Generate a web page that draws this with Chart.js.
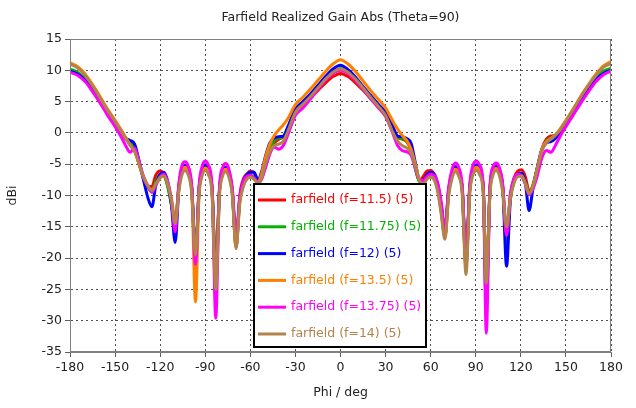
<!DOCTYPE html>
<html>
<head>
<meta charset="utf-8">
<script src="https://cdn.jsdelivr.net/npm/chart.js@4"></script>
<style>
  html, body { margin: 0; padding: 0; background: #fff; }
  #wrap { width: 636px; height: 408px; position: relative; }
</style>
</head>
<body>
<div id="wrap"><canvas id="chart"></canvas></div>
<script>
const TITLE = 'Farfield Realized Gain Abs (Theta=90)'
const X_TITLE = 'Phi / deg'
const Y_TITLE = 'dBi'

const PHI = [
  -180, -175, -170, -165, -160, -155, -150, -146, -143, -140,
  -137, -134, -131, -128, -125.5, -123, -120, -117.5, -115, -112.5,
  -110, -107.5, -105.5, -103.5, -101.5, -99, -96.5, -94, -92, -90,
  -88, -85.5, -83, -80.5, -78.5, -76.5, -74.5, -72, -69.5, -67,
  -64.5, -62, -60, -57.5, -55, -52.5, -50, -47, -44, -41,
  -38, -35, -30, -25, -20, -15, -10, -5, 0,
  5, 10, 15, 20, 25, 30, 35, 38, 41, 44,
  47, 50, 52.5, 55, 57.5, 60, 62.5, 65, 67, 69.5,
  72, 74.5, 76.5, 78.5, 81, 83.5, 86, 88, 90.5, 92.5,
  95, 97, 99.5, 101.5, 103.5, 105.5, 108, 110.5, 113, 115.5,
  118, 120.5, 123, 125.5, 128, 131, 134, 137, 140, 143,
  146, 150, 155, 160, 165, 170, 175, 180,
]

const LABELS = [
  'farfield (f=11.5) (5)',
  'farfield (f=11.75) (5)',
  'farfield (f=12) (5)',
  'farfield (f=13.5) (5)',
  'farfield (f=13.75) (5)',
  'farfield (f=14) (5)',
]

const COLORS = ['#ff0000', '#00b400', '#0000ff', '#ff8000', '#ff00ff', '#b4824b']

const gain115 = [
  10.0, 9.5, 8.5, 7.0, 5.2, 3.3, 1.6, 0.2, -0.9, -1.5,
  -2.6, -5.0, -7.2, -8.5, -8.6, -6.8, -6.1, -6.6, -8.4, -11.3,
  -14.2, -8.4, -6.0, -5.3, -5.9, -8.9, -19, -8.7, -6.1, -5.3,
  -5.9, -8.9, -22, -9.1, -6.2, -5.6, -6.2, -9.3, -18.3, -10,
  -7.3, -6.5, -6.1, -6.4, -7.8, -7.2, -5.5, -3.2, -1.6, -1.0,
  -0.6, 0.7, 3.4, 4.5, 5.6, 6.8, 8.0, 9.0, 9.5,
  9.0, 8.0, 6.8, 5.5, 4.1, 2.7, 0.3, -0.7, -1.0, -1.4,
  -2.8, -5.9, -7.6, -7.0, -6.1, -6.0, -6.8, -9.0, -12.3, -16.5,
  -9.2, -6.2, -5.5, -6.1, -9.0, -21, -8.9, -6.0, -5.2, -5.8,
  -8.9, -24, -8.9, -6.1, -5.5, -6.0, -8.8, -17, -10, -7.2,
  -6.1, -5.9, -7.0, -9.3, -8.4, -5.6, -2.6, -1.0, -0.5, -0.4,
  0.2, 1.7, 3.4, 5.3, 7.1, 8.7, 9.8, 10.2,
]

const gain1175 = [
  10.2, 9.7, 8.7, 7.1, 5.3, 3.4, 1.7, 0.3, -0.9, -1.4,
  -2.4, -4.8, -7.3, -8.8, -9.4, -7.8, -6.6, -6.8, -8.6, -11.5,
  -14.5, -8.5, -6.0, -5.4, -6.0, -9.0, -19.5, -8.8, -6.2, -5.4,
  -6.0, -9.0, -22, -9.2, -6.3, -5.6, -6.3, -9.5, -18, -10.5,
  -7.8, -6.8, -6.7, -7.2, -8.0, -7.0, -4.8, -2.6, -1.2, -0.8,
  -0.6, 0.8, 3.6, 4.9, 6.0, 7.2, 8.5, 9.6, 10.3,
  9.6, 8.4, 7.0, 5.7, 4.3, 2.8, 0.3, -0.6, -0.9, -1.3,
  -2.6, -5.8, -7.8, -7.8, -6.9, -6.6, -7.2, -9.0, -12, -16.5,
  -9.3, -6.3, -5.5, -6.1, -9.0, -21, -9.0, -6.1, -5.3, -5.9,
  -9.0, -24, -9.0, -6.2, -5.5, -6.1, -9.0, -17.5, -10.5, -7.8,
  -6.6, -6.5, -7.8, -9.6, -8.4, -5.5, -2.8, -1.3, -0.8, -0.4,
  0.3, 1.8, 3.5, 5.4, 7.2, 8.8, 9.9, 10.3,
]

const gain12 = [
  9.9, 9.4, 8.4, 6.9, 5.1, 3.2, 1.6, 0.4, -0.8, -1.2,
  -1.8, -4.5, -7.6, -10.5, -11.8, -8.5, -6.6, -6.3, -7.8, -11.5,
  -17.5, -8.6, -5.8, -5.2, -5.8, -8.8, -20, -8.6, -5.9, -5.1,
  -5.7, -8.8, -23, -9.0, -6.1, -5.5, -6.1, -9.3, -17.3, -10.5,
  -7.6, -6.6, -6.3, -6.3, -7.5, -6.2, -3.8, -1.6, -0.8, -0.6,
  -0.5, 1.0, 3.8, 5.0, 6.2, 7.6, 9.0, 10.2, 10.8,
  10.1, 8.9, 7.4, 6.0, 4.6, 3.3, 0.9, -0.5, -0.6, -0.9,
  -1.7, -5.0, -7.5, -7.6, -6.7, -6.3, -6.6, -8.5, -11.5, -15.5,
  -9.0, -6.1, -5.4, -6.0, -8.9, -20, -8.8, -5.9, -5.1, -5.7,
  -8.8, -27.5, -8.8, -6.0, -5.3, -5.9, -8.8, -21.3, -10.8, -7.6,
  -6.6, -6.4, -8.0, -12.4, -9.0, -5.5, -2.6, -1.6, -1.4, -0.9,
  0.0, 1.6, 3.2, 5.1, 6.9, 8.5, 9.5, 10.0,
]

const gain135 = [
  11.2, 10.6, 9.4, 7.7, 5.8, 3.8, 2.0, 0.5, -0.7, -1.9,
  -2.9, -5.0, -7.2, -8.6, -9.2, -8.3, -7.2, -6.8, -8.0, -10.5,
  -14.0, -8.8, -6.2, -5.5, -6.0, -9.0, -27, -9.0, -6.4, -5.6,
  -6.2, -9.2, -23.5, -9.4, -6.5, -5.8, -6.5, -9.6, -18.3, -11,
  -8.3, -7.2, -7.0, -7.3, -7.8, -6.5, -4.0, -1.8, -0.4, 0.5,
  1.3, 2.3, 4.5, 5.7, 7.0, 8.4, 9.8, 11.0, 11.7,
  11.0, 9.8, 8.3, 6.8, 5.4, 4.0, 1.8, 0.6, -0.4, -1.2,
  -2.6, -5.2, -7.4, -8.0, -7.2, -6.9, -7.3, -9.5, -12.5, -16.8,
  -9.6, -6.5, -5.8, -6.4, -9.3, -21.5, -9.3, -6.3, -5.5, -6.1,
  -9.2, -24, -9.2, -6.4, -5.7, -6.3, -9.2, -16, -10.4, -7.8,
  -6.8, -6.8, -8.1, -9.8, -8.6, -5.6, -2.6, -1.4, -0.9, -0.3,
  0.6, 2.0, 3.9, 5.9, 7.7, 9.4, 10.7, 11.4,
]

const gain1375 = [
  9.7, 9.2, 8.2, 6.6, 4.8, 2.8, 1.0, -0.6, -2.0, -3.1,
  -2.4, -4.6, -7.0, -8.6, -9.5, -8.4, -7.0, -6.6, -7.8, -10.8,
  -15.8, -8.0, -5.2, -4.6, -5.2, -8.4, -21, -8.2, -5.3, -4.5,
  -5.1, -8.4, -29.6, -8.5, -5.6, -4.9, -5.6, -8.8, -16.5, -10.2,
  -7.6, -6.9, -6.8, -7.2, -8.0, -7.4, -5.6, -3.3, -2.3, -2.6,
  -2.0, -0.3, 2.8, 4.0, 5.4, 7.0, 8.4, 9.5, 10.0,
  9.5, 8.4, 7.0, 5.5, 4.1, 2.6, -0.2, -2.0, -2.8, -3.0,
  -3.6, -5.8, -7.5, -7.6, -7.0, -6.6, -6.8, -8.3, -11, -15.5,
  -8.6, -5.6, -4.8, -5.4, -8.4, -20.5, -8.3, -5.3, -4.5, -5.1,
  -8.3, -32, -8.3, -5.4, -4.8, -5.4, -8.3, -16.4, -9.8, -7.3,
  -6.6, -6.9, -8.2, -9.9, -9.0, -6.8, -4.0, -2.8, -3.1, -2.0,
  -0.6, 1.0, 2.9, 4.8, 6.6, 8.2, 9.3, 9.9,
]

const gain14 = [
  11.0, 10.4, 9.2, 7.5, 5.6, 3.6, 1.8, 0.3, -0.9, -2.0,
  -3.0, -5.0, -7.0, -8.5, -9.2, -8.2, -7.1, -6.9, -8.2, -10.8,
  -14.5, -9.2, -6.7, -6.0, -6.6, -9.6, -19.5, -9.5, -6.8, -6.0,
  -6.6, -9.8, -25, -9.9, -6.9, -6.2, -6.9, -10, -18.5, -11.2,
  -8.5, -7.3, -7.1, -7.4, -8.1, -7.2, -5.0, -3.0, -2.0, -1.8,
  -1.3, 0.3, 3.3, 4.6, 5.8, 7.2, 8.6, 9.7, 10.2,
  9.7, 8.6, 7.2, 5.7, 4.3, 2.8, 0.0, -1.3, -2.0, -2.4,
  -3.2, -5.5, -7.6, -8.3, -7.4, -7.1, -7.6, -9.8, -13, -17,
  -10, -7.0, -6.2, -6.8, -9.8, -22.6, -9.8, -6.8, -6.0, -6.6,
  -9.7, -24, -9.6, -6.7, -6.0, -6.6, -9.6, -15, -10.5, -8.0,
  -7.0, -6.9, -8.1, -9.7, -8.6, -5.8, -2.9, -1.6, -1.0, -0.4,
  0.4, 1.9, 3.8, 5.8, 7.6, 9.2, 10.5, 11.1,
]

const SERIES = [gain115, gain1175, gain12, gain135, gain1375, gain14]

const FONT = { family: 'DejaVu Sans', size: 12.5 }
const TEXT_COLOR = '#222222'

// title, axis titles, frame and the boxed legend inside the plot
const decorations = {
  id: 'decorations',
  afterDraw(chart) {
    const { ctx, chartArea } = chart
    const cx = (chartArea.left + chartArea.right) / 2
    ctx.save()
    ctx.font = `${FONT.size}px "${FONT.family}"`
    ctx.fillStyle = TEXT_COLOR
    ctx.textAlign = 'center'
    ctx.textBaseline = 'middle'
    ctx.fillText(TITLE, cx, 18)
    ctx.fillText(X_TITLE, cx, 393)
    ctx.save()
    ctx.translate(13, (chartArea.top + chartArea.bottom) / 2)
    ctx.rotate(-Math.PI / 2)
    ctx.fillText(Y_TITLE, 0, 0)
    ctx.restore()

    ctx.strokeStyle = '#808080'
    ctx.lineWidth = 1
    ctx.strokeRect(chartArea.left + 0.5, chartArea.top + 0.5,
      chartArea.right - chartArea.left - 1, chartArea.bottom - chartArea.top - 1)

    // legend box
    const bx = 254, by = 184, bw = 172, bh = 163
    ctx.fillStyle = '#ffffff'
    ctx.fillRect(bx, by, bw, bh)
    ctx.strokeStyle = '#000000'
    ctx.lineWidth = 2
    ctx.strokeRect(bx, by, bw, bh)
    ctx.textAlign = 'left'
    LABELS.forEach((label, i) => {
      const y = by + 16 + i * 26.8
      ctx.strokeStyle = COLORS[i]
      ctx.lineWidth = 3
      ctx.beginPath()
      ctx.moveTo(bx + 4, y)
      ctx.lineTo(bx + 32, y)
      ctx.stroke()
      ctx.fillStyle = COLORS[i]
      ctx.fillText(label, bx + 37, y)
    })
    ctx.restore()
  },
}

const datasets = SERIES.map((values, i) => ({
  label: LABELS[i],
  data: PHI.map((phi, j) => ({ x: phi, y: values[j] })),
  borderColor: COLORS[i],
  backgroundColor: COLORS[i],
  borderWidth: 3,
  pointRadius: 0,
  fill: false,
  cubicInterpolationMode: 'monotone',
  order: SERIES.length - i,
}))

new Chart(document.getElementById('chart').getContext('2d'), {
  type: 'line',
  data: { datasets },
  options: {
    animation: false,
    responsive: true,
    maintainAspectRatio: false,
    devicePixelRatio: 1,
    layout: { padding: { top: 39, right: 25, left: 0, bottom: 0 } },
    plugins: {
      legend: { display: false },
      tooltip: { enabled: false },
      title: { display: false },
    },
    scales: {
      x: {
        type: 'linear',
        min: -180,
        max: 180,
        afterFit: (scale) => { scale.height = 56 },
        ticks: { stepSize: 30, color: TEXT_COLOR, font: FONT, padding: 3, maxRotation: 0 },
        grid: { color: '#505050', lineWidth: 1, tickLength: 5, tickColor: '#606060', tickBorderDash: [] },
        border: { display: true, color: '#808080', dash: [2, 3] },
      },
      y: {
        type: 'linear',
        min: -35,
        max: 15,
        afterFit: (scale) => { scale.width = 70 },
        ticks: { stepSize: 5, color: TEXT_COLOR, font: FONT, padding: 3 },
        grid: { color: '#505050', lineWidth: 1, tickLength: 5, tickColor: '#606060', tickBorderDash: [] },
        border: { display: true, color: '#808080', dash: [2, 3] },
      },
    },
  },
  plugins: [decorations],
})
</script>
</body>
</html>
